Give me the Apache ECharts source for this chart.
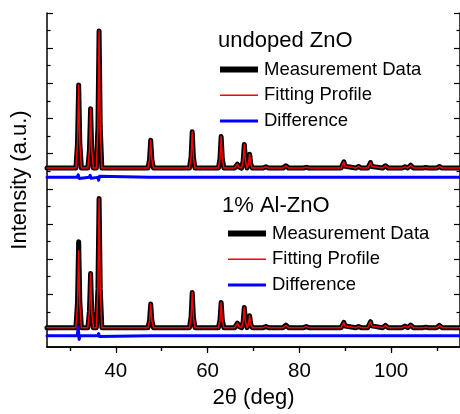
<!DOCTYPE html>
<html>
<head>
<meta charset="utf-8">
<script src="https://cdn.jsdelivr.net/npm/echarts@6/dist/echarts.min.js"></script>
<style>
    html, body { margin: 0; padding: 0; background: #fff; }
    #xrd_chart { width: 460px; height: 414px; }
</style>
</head>
<body>
<div id="xrd_chart"></div>
<script>
// peak positions, 2theta (deg)
var peakPos = [31.9, 34.5, 36.35, 47.6, 56.65, 62.95, 66.5, 68.0, 69.15, 72.7, 77.05, 81.5, 89.7, 92.9, 95.5, 98.75, 103.0, 104.25, 107.5, 110.5];

// peak heights above the baseline (a.u.)
var undopedMeas = [473, 338, 780, 158, 206, 179, 22, 134, 79, 7, 13, 4, 35, 9, 31, 13, 7, 16, 3, 9];
var undopedFit  = [473, 338, 780, 158, 206, 179, 22, 134, 79, 7, 13, 4, 35, 9, 31, 13, 7, 16, 3, 9];
var undopedDiff = [15, 12, -16, 8, 8, 8, 0, 6, 4, 0, 0, 0, 4, 0, 4, 0, 0, 3, 0, 0];

var alMeas = [489, 308, 735, 134, 200, 143, 26, 115, 68, 6, 14, 6, 30, 6, 34, 13, 9, 15, 3, 13];
var alFit  = [438, 308, 735, 134, 200, 143, 26, 115, 68, 6, 14, 6, 30, 6, 34, 13, 9, 15, 3, 13];
var alDiff = [52, -10, 12, 6, 8, -8, 0, 6, 5, 0, 0, 0, 4, 0, 4, 0, 0, 3, 0, 0];

// vertical offsets of the two patterns
var baseLevel = [1018, 110];
var diffLevel = [965, 64];

// axis ticks
var xMajor = [40, 60, 80, 100];
var xMinor = [30, 50, 70, 90, 110];
var xTop = [30, 40, 50, 60, 70, 80, 90, 100, 110];
var yMajor = [100, 300, 500, 700, 900, 1100, 1300, 1500, 1700, 1900];
var yMinor = [200, 400, 600, 800, 1000, 1200, 1400, 1600, 1800];

var legendNames = ['Measurement Data', 'Fitting Profile', 'Difference'];
var FONT = 'Liberation Sans, Arial, Helvetica, sans-serif';

// trace a pattern as a polyline: flat baseline with a narrow spike at each peak
function trace(base, heights, dx, frac) {
    var pts = [[25, base]];
    for (var i = 0; i < peakPos.length; i++) {
        if (heights[i] === 0) continue;
        for (var k = 0; k < dx.length; k++) {
            pts.push([peakPos[i] + dx[k], base + heights[i] * frac[k]]);
        }
    }
    pts.push([115, base]);
    return pts;
}

var peakDx = [-0.6, -0.25, 0, 0.25, 0.6];
var peakFrac = [0, 0.3, 1, 0.3, 0];
var diffDx = [-0.3, -0.1, 0.1, 0.3];
var diffFrac = [0, 1, -0.4, 0];

function lineSeries(name, data, color, width) {
    return {
        name: name,
        type: 'line',
        data: data,
        symbol: 'none',
        showSymbol: false,
        clip: true,
        animation: false,
        color: color,
        lineStyle: { color: color, width: width, join: 'round', cap: 'round' }
    };
}

function makeLegend(left, top) {
    var hide = { opacity: 0, borderWidth: 0 };
    return {
        orient: 'vertical',
        left: left,
        top: top,
        padding: 0,
        itemWidth: 38,
        itemHeight: 18,
        itemGap: 6.8,
        selectedMode: false,
        textStyle: { fontFamily: FONT, fontSize: 18.5, color: '#000', lineHeight: 18, padding: [0, 0, 0, 1] },
        data: [
            { name: legendNames[0], itemStyle: hide, lineStyle: { width: 6, cap: 'butt' } },
            { name: legendNames[1], itemStyle: hide, lineStyle: { width: 1.5, cap: 'butt' } },
            { name: legendNames[2], itemStyle: hide, lineStyle: { width: 3, cap: 'butt' } }
        ]
    };
}

var chart = echarts.init(document.getElementById('xrd_chart'));

var option = {
    backgroundColor: '#fff',
    animation: false,
    title: [
        { text: 'undoped ZnO', left: 218, top: 30, padding: 0,
          textStyle: { fontFamily: FONT, fontSize: 22, fontWeight: 'normal', color: '#000' } },
        { text: '1% Al-ZnO', left: 222, top: 195, padding: 0,
          textStyle: { fontFamily: FONT, fontSize: 22, fontWeight: 'normal', color: '#000' } }
    ],
    legend: [makeLegend(217, 60), makeLegend(225, 224)],
    grid: { left: 47, top: 13, right: -1, bottom: 67 },
    xAxis: [
        {
            type: 'value', position: 'bottom', min: 25, max: 115,
            name: '2θ (deg)', nameLocation: 'middle', nameGap: 38,
            nameTextStyle: { fontFamily: FONT, fontSize: 22, color: '#000' },
            axisLine: { lineStyle: { color: '#000', width: 1.5 } },
            axisTick: { show: true, inside: false, length: 6, customValues: xMajor, lineStyle: { color: '#000', width: 1.2 } },
            axisLabel: { customValues: xMajor, margin: 14, fontFamily: FONT, fontSize: 20.5, color: '#000' },
            splitLine: { show: false }
        },
        {
            type: 'value', position: 'bottom', min: 25, max: 115,
            axisLine: { show: false },
            axisTick: { show: true, inside: false, length: 4, customValues: xMinor, lineStyle: { color: '#000', width: 1.2 } },
            axisLabel: { show: false },
            splitLine: { show: false }
        },
        {
            type: 'value', position: 'top', min: 25, max: 115,
            axisLine: { lineStyle: { color: '#000', width: 1.5 } },
            axisTick: { show: true, inside: true, length: 4, customValues: xTop, lineStyle: { color: '#000', width: 1.2 } },
            axisLabel: { show: false },
            splitLine: { show: false }
        }
    ],
    yAxis: [
        {
            type: 'value', position: 'left', min: 0, max: 1900,
            name: 'Intensity (a.u.)', nameLocation: 'middle', nameGap: 16,
            nameTextStyle: { fontFamily: FONT, fontSize: 22, color: '#000' },
            axisLine: { lineStyle: { color: '#000', width: 1.5 } },
            axisTick: { show: true, inside: true, length: 6, customValues: yMajor, lineStyle: { color: '#000', width: 1.2 } },
            axisLabel: { show: false },
            splitLine: { show: false }
        },
        {
            type: 'value', position: 'left', min: 0, max: 1900,
            axisLine: { show: false },
            axisTick: { show: true, inside: true, length: 3.5, customValues: yMinor, lineStyle: { color: '#000', width: 1.2 } },
            axisLabel: { show: false },
            splitLine: { show: false }
        },
        {
            type: 'value', position: 'right', min: 0, max: 1900,
            axisLine: { lineStyle: { color: '#000', width: 1.5 } },
            axisTick: { show: true, inside: true, length: 6, customValues: yMajor, lineStyle: { color: '#000', width: 1.2 } },
            axisLabel: { show: false },
            splitLine: { show: false }
        },
        {
            type: 'value', position: 'right', min: 0, max: 1900,
            axisLine: { show: false },
            axisTick: { show: true, inside: true, length: 3.5, customValues: yMinor, lineStyle: { color: '#000', width: 1.2 } },
            axisLabel: { show: false },
            splitLine: { show: false }
        }
    ],
    series: [
        lineSeries(legendNames[0], trace(baseLevel[0], undopedMeas, peakDx, peakFrac), '#000000', 5),
        lineSeries(legendNames[1], trace(baseLevel[0], undopedFit, peakDx, peakFrac), '#ff0000', 1.5),
        lineSeries(legendNames[2], trace(diffLevel[0], undopedDiff, diffDx, diffFrac), '#0000ff', 3),
        lineSeries(legendNames[0], trace(baseLevel[1], alMeas, peakDx, peakFrac), '#000000', 5),
        lineSeries(legendNames[1], trace(baseLevel[1], alFit, peakDx, peakFrac), '#ff0000', 1.5),
        lineSeries(legendNames[2], trace(diffLevel[1], alDiff, diffDx, diffFrac), '#0000ff', 3)
    ]
};

chart.setOption(option);
</script>
</body>
</html>
